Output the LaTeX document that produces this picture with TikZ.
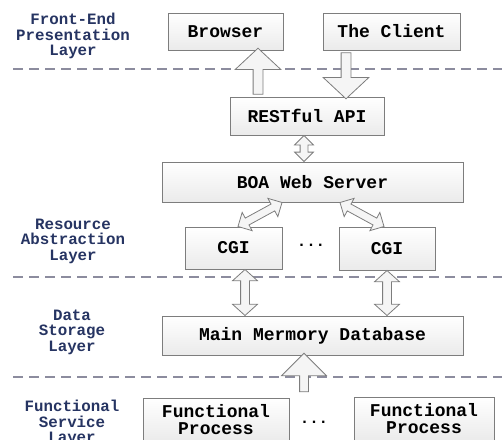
\documentclass[tikz,border=0pt]{standalone}
\usepackage{fontspec}
\setmonofont{Liberation Mono}
\usetikzlibrary{calc}
\usetikzlibrary{shapes.arrows}
\definecolor{layerblue}{RGB}{38,52,98}
\definecolor{boxline}{RGB}{125,125,125}
\definecolor{dashgray}{RGB}{140,140,158}
\tikzset{
  box/.style={draw=boxline, line width=1pt, top color=white, bottom color=gray!16,
    font=\ttfamily\bfseries\fontsize{18}{17}\selectfont, inner sep=0pt, align=center},
  layer/.style={text=layerblue, font=\ttfamily\bfseries\fontsize{15.8}{15.5}\selectfont, align=center},
  sep/.style={dashgray, line width=1.3pt, dash pattern=on 10pt off 6pt},
  blk/.style={draw=boxline, fill=gray!8, line width=0.8pt, inner xsep=0pt, minimum width=0pt},
}
\newcommand{\onearrow}[3][]{\path let \p1=($(#3)-(#2)$), \n1={veclen(\x1,\y1)}, \n2={atan2(\y1,\x1)} in
  node[blk, single arrow, minimum height=\n1, rotate=\n2, #1] at ($(#2)!0.5!(#3)$) {};}
\newcommand{\twoarrow}[3][]{\path let \p1=($(#3)-(#2)$), \n1={veclen(\x1,\y1)}, \n2={atan2(\y1,\x1)} in
  node[blk, double arrow, minimum height=\n1, rotate=\n2, #1] at ($(#2)!0.5!(#3)$) {};}
\begin{document}
\begin{tikzpicture}[x=1pt, y=-1pt]
\useasboundingbox (0,0) rectangle (502,439);

\draw[sep] (13,69) -- (502,69);
\draw[sep] (13,277) -- (502,277);
\draw[sep] (13,377) -- (502,377);

\node[layer] (lfront) at (73,36) {Front-End\\Presentation\\Layer};
\node[layer] (lres) at (73,241) {Resource\\Abstraction\\Layer};
\node[layer] (ldata) at (72,332) {Data\\Storage\\Layer};
\node[layer] (lfunc) at (72,423) {Functional\\Service\\Layer};

\node[box, minimum width=115, minimum height=37] (browser) at (225.5,31.5) {Browser};
\node[box, minimum width=137, minimum height=37] (client) at (391.5,31.5) {The Client};
\node[box, minimum width=154, minimum height=38] (rest) at (307,116) {RESTful API};
\node[box, minimum width=301, minimum height=40] (boa) at (312.5,182) {BOA Web Server};
\node[box, minimum width=97, minimum height=42] (cgia) at (233.5,248) {CGI};
\node[box, minimum width=96, minimum height=43] (cgib) at (387,248.5) {CGI};
\node[box, minimum width=301, minimum height=39] (db) at (312.5,335.5) {Main Mermory Database};
\node[box, minimum width=146, minimum height=44] (fpa) at (216,420) {Functional\\Process};
\node[box, minimum width=140, minimum height=44] (fpb) at (424,419) {Functional\\Process};
\node[layer, text=black] (dotsa) at (311,245) {...};
\node[layer, text=black] (dotsb) at (314,422) {...};

\coordinate (ua) at ([xshift=-49pt]rest.north);
\coordinate (ub) at (ua |- browser.south);
\coordinate (ca) at ([xshift=-45.5pt]client.south);
\coordinate (cb) at (ca |- rest.north);
\coordinate (ra) at ([xshift=-3pt]rest.south);
\coordinate (rb) at (ra |- boa.north);
\coordinate (ga) at ([xshift=4.5pt]cgia.north);
\coordinate (gb) at ([xshift=-30.5pt]boa.south);
\coordinate (ha) at ([xshift=27.5pt]boa.south);
\coordinate (hb) at ([xshift=-3pt]cgib.north);
\coordinate (ka) at ([xshift=11.5pt]cgia.south);
\coordinate (kb) at (ka |- db.north);
\coordinate (ma) at (cgib.south);
\coordinate (mb) at (ma |- db.north);
\coordinate (fs) at (304,394);
\coordinate (ft) at (fs |- db.south);

\onearrow[inner ysep=4.5pt, single arrow head extend=18pt, single arrow tip angle=94]{ua}{ub}
\onearrow[inner ysep=4.5pt, single arrow head extend=18pt, single arrow tip angle=94]{ca}{cb}
\twoarrow[inner ysep=3.5pt, double arrow head extend=5.5pt, double arrow tip angle=90]{ra}{rb}
\twoarrow[inner ysep=3.5pt, double arrow head extend=6.5pt, double arrow tip angle=90]{ga}{gb}
\twoarrow[inner ysep=3.5pt, double arrow head extend=6.5pt, double arrow tip angle=90]{ha}{hb}
\twoarrow[inner ysep=4pt, double arrow head extend=8pt, double arrow tip angle=96]{ka}{kb}
\twoarrow[inner ysep=4pt, double arrow head extend=8pt, double arrow tip angle=96]{ma}{mb}
\onearrow[inner ysep=4pt, single arrow head extend=18pt, single arrow tip angle=90]{fs}{ft}

\end{tikzpicture}
\end{document}
